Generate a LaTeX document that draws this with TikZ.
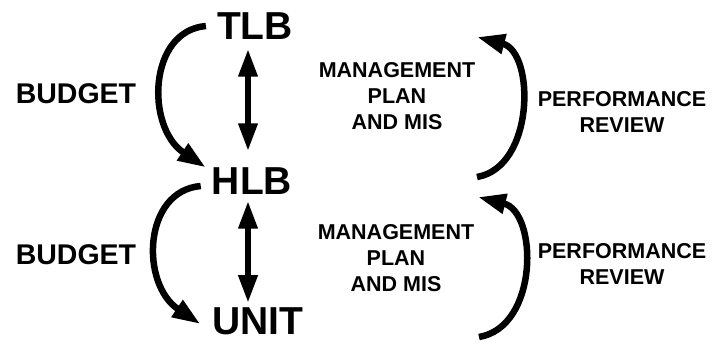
\documentclass[tikz,border=0pt]{standalone}
\usepackage{fontspec}
\setmainfont{Liberation Sans}
\usetikzlibrary{arrows.meta}

\tikzset{
  lvl/.style={inner sep=0pt, font=\fontsize{39}{39}\selectfont\bfseries},
  budget/.style={inner sep=0pt, font=\fontsize{28.5}{29}\selectfont\bfseries},
  note/.style={inner sep=0pt, align=center, font=\fontsize{21.5}{26}\selectfont\bfseries},
  flow/.style={line width=6.5pt, -{Triangle[length=28pt,width=19pt]}},
  link/.style={line width=6.5pt, {Triangle[length=28pt,width=18pt]}-{Triangle[length=28pt,width=18pt]}}
}

\begin{document}
\begin{tikzpicture}[x=1pt,y=-1pt]
  \useasboundingbox (0,0) rectangle (722,343);

  % levels
  \node[lvl] (tlb) at (255,26) {TLB};
  \node[lvl] (hlb) at (252,181) {HLB};
  \node[lvl] (unit) at (258,321) {UNIT};

  % two-way links
  \draw[link, shorten <=9pt, shorten >=16pt] ([xshift=-7pt]tlb.south) -- ([xshift=-4pt]hlb.north);
  \draw[link, shorten <=6pt, shorten >=4pt] ([xshift=-4pt]hlb.south) -- ([xshift=-10pt]unit.north);

  % budget going down
  \draw[flow] ([xshift=-11pt]tlb.west) .. controls +(-58,5) and +(-60,-40) .. ([xshift=-6pt]hlb.north west);
  \draw[flow] ([shift={(-11pt,-5pt)}]hlb.west) .. controls +(-58,5) and +(-60,-40) .. ([shift={(-12pt,-3pt)}]unit.west);
  \node[budget] (bud1) at (76,94) {BUDGET};
  \node[budget] (bud2) at (76,255) {BUDGET};

  % plans
  \node[note] (plan1) at (397,96) {MANAGEMENT\\PLAN\\AND MIS};
  \node[note] (plan2) at (396,258) {MANAGEMENT\\PLAN\\AND MIS};

  % review going up
  \coordinate (rv1a) at (477,177);
  \coordinate (rv1b) at (477,37);
  \coordinate (rv2a) at (479,337);
  \coordinate (rv2b) at (478,197);
  \draw[flow] (rv1a) .. controls +(58,-10) and +(58,15) .. (rv1b);
  \draw[flow] (rv2a) .. controls +(60,-10) and +(60,15) .. (rv2b);
  \node[note] (perf1) at (622,112) {PERFORMANCE\\REVIEW};
  \node[note] (perf2) at (622,264) {PERFORMANCE\\REVIEW};

\end{tikzpicture}
\end{document}
